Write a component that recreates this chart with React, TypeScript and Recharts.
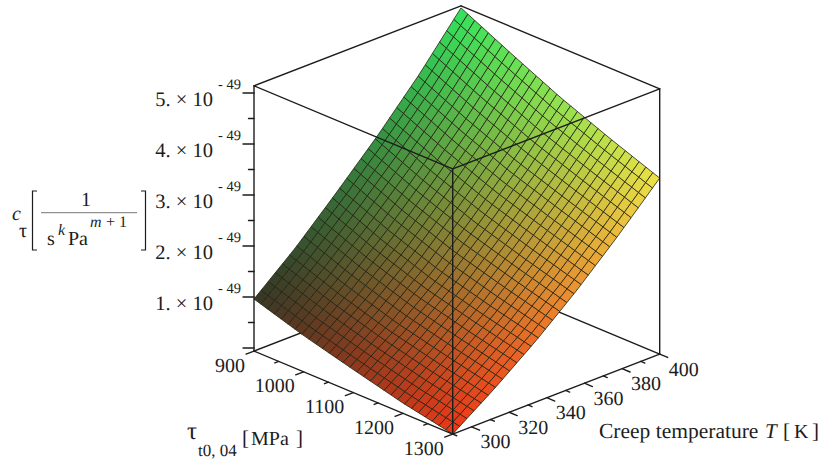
import { ScatterChart, Scatter, XAxis, YAxis } from "recharts";

// values, c in units of 1e-49
const tauStations = [900, 1000, 1100, 1200, 1300];
const tempStations = [290, 312, 334, 356, 378, 400];
const cAt290 = [0.96, 0.65, 0.39, 0.14, -0.06];
const cAt312 = [1.65, 1.28, 0.97, 0.73, 0.51];
const cAt334 = [2.43, 2.0, 1.64, 1.37, 1.13];
const cAt356 = [3.24, 2.8, 2.42, 2.11, 1.82];
const cAt378 = [4.12, 3.66, 3.25, 2.91, 2.58];
const cAt400 = [5.1, 4.62, 4.16, 3.76, 3.39];
const cRows = [cAt290, cAt312, cAt334, cAt356, cAt378, cAt400];

const tauTicks = [900, 1000, 1100, 1200, 1300];
const tauMinor = [950, 1050, 1150, 1250];
const tempTicks = [300, 320, 340, 360, 380, 400];
const tempMinor = [290, 310, 330, 350, 370, 390];
const cTicks = [1, 2, 3, 4, 5];
const cMinor = [0.5, 1.5, 2.5, 3.5, 4.5];

const TAU_MIN = 900;
const TAU_MAX = 1300;
const T_MIN = 290;
const T_MAX = 400;
const C_BOTTOM = -0.06;
const C_TOP = 5.14;
const MESH = 29;

const FONT = "'Liberation Serif', 'Times New Roman', serif";
const INK = "#1c1c1c";

// fixed view of the box, the chart axes run in the same units as the page
const project = (T: number, tau: number, c: number) => {
  const t = (T - T_MIN) / (T_MAX - T_MIN);
  const s = (tau - TAU_MIN) / (TAU_MAX - TAU_MIN);
  return { x: 254 + 198.7 * s + 207 * t, y: 348 + 83 * s - 80 * t - 51 * c };
};

const segment = (
  a: { x: number; y: number },
  b: { x: number; y: number },
) => ({ x: a.x, y: a.y, dx: b.x - a.x, dy: b.y - a.y });

const corner = (T: number, tau: number, c: number) => project(T, tau, c);

const backEdges = [
  [T_MAX, TAU_MIN, C_TOP, T_MIN, TAU_MIN, C_TOP],
  [T_MAX, TAU_MIN, C_TOP, T_MAX, TAU_MAX, C_TOP],
  [T_MAX, TAU_MIN, C_BOTTOM, T_MIN, TAU_MIN, C_BOTTOM],
  [T_MAX, TAU_MIN, C_BOTTOM, T_MAX, TAU_MAX, C_BOTTOM],
].map((e) => segment(corner(e[0], e[1], e[2]), corner(e[3], e[4], e[5])));

const frontEdges = [
  [T_MIN, TAU_MIN, C_TOP, T_MIN, TAU_MAX, C_TOP],
  [T_MIN, TAU_MAX, C_TOP, T_MAX, TAU_MAX, C_TOP],
  [T_MIN, TAU_MIN, C_BOTTOM, T_MIN, TAU_MIN, C_TOP],
  [T_MIN, TAU_MAX, C_BOTTOM, T_MIN, TAU_MAX, C_TOP],
  [T_MAX, TAU_MAX, C_BOTTOM, T_MAX, TAU_MAX, C_TOP],
  [T_MIN, TAU_MIN, C_BOTTOM, T_MIN, TAU_MAX, C_BOTTOM],
  [T_MIN, TAU_MAX, C_BOTTOM, T_MAX, TAU_MAX, C_BOTTOM],
].map((e) => segment(corner(e[0], e[1], e[2]), corner(e[3], e[4], e[5])));

const tickSegs = [
  ...[0, ...cTicks].map((c) => ({ ...project(T_MIN, TAU_MIN, c), dx: -11, dy: 0 })),
  ...cMinor.map((c) => ({ ...project(T_MIN, TAU_MIN, c), dx: -5.5, dy: 0 })),
  ...tauTicks.map((v) => ({ ...project(T_MIN, v, C_BOTTOM), dx: -8, dy: 3 })),
  ...tauMinor.map((v) => ({ ...project(T_MIN, v, C_BOTTOM), dx: -4, dy: 1.5 })),
  ...tempTicks.map((v) => ({ ...project(v, TAU_MAX, C_BOTTOM), dx: 8, dy: 3.4 })),
  ...tempMinor.map((v) => ({ ...project(v, TAU_MAX, C_BOTTOM), dx: 4, dy: 1.7 })),
];

// surface value between the stations of the read table, only to place the wire mesh
const cAt = (T: number, tau: number) => {
  const ti = Math.min(
    tempStations.length - 2,
    tempStations.findIndex((v, i) => T <= tempStations[i + 1] && v <= T),
  );
  const si = Math.min(
    tauStations.length - 2,
    tauStations.findIndex((v, i) => tau <= tauStations[i + 1] && v <= tau),
  );
  const u = (T - tempStations[ti]) / (tempStations[ti + 1] - tempStations[ti]);
  const v = (tau - tauStations[si]) / (tauStations[si + 1] - tauStations[si]);
  const a = cRows[ti][si] * (1 - v) + cRows[ti][si + 1] * v;
  const b = cRows[ti + 1][si] * (1 - v) + cRows[ti + 1][si + 1] * v;
  return a * (1 - u) + b * u;
};

const cellColor = (T: number, tau: number, c: number) => {
  const t = (T - T_MIN) / (T_MAX - T_MIN);
  const s = (tau - TAU_MIN) / (TAU_MAX - TAU_MIN);
  const r = Math.round(52 + 185 * s);
  const g = Math.round(56 + 172 * Math.pow(t, 1.25));
  const b = Math.round(24 + (c / C_TOP) * 70);
  return `rgb(${r},${g},${b})`;
};

const surfaceCells: any[] = [];
for (let i = 0; i < MESH; i++) {
  for (let j = 0; j < MESH; j++) {
    const T0 = T_MIN + ((T_MAX - T_MIN) * i) / MESH;
    const T1 = T_MIN + ((T_MAX - T_MIN) * (i + 1)) / MESH;
    const a0 = TAU_MIN + ((TAU_MAX - TAU_MIN) * j) / MESH;
    const a1 = TAU_MIN + ((TAU_MAX - TAU_MIN) * (j + 1)) / MESH;
    const p = project(T0, a0, cAt(T0, a0));
    const q = [
      project(T1, a0, cAt(T1, a0)),
      project(T1, a1, cAt(T1, a1)),
      project(T0, a1, cAt(T0, a1)),
    ];
    surfaceCells.push({
      x: p.x,
      y: p.y,
      offsets: q.map((o) => [o.x - p.x, o.y - p.y]),
      fill: cellColor((T0 + T1) / 2, (a0 + a1) / 2, cAt((T0 + T1) / 2, (a0 + a1) / 2)),
    });
  }
}

const tickTexts = [
  ...tauTicks.map((v) => ({
    ...project(T_MIN, v, C_BOTTOM),
    label: String(v),
    dx: -9,
    dy: 20.5,
    anchor: "end",
    size: 20,
  })),
  ...tempTicks.map((v) => ({
    ...project(v, TAU_MAX, C_BOTTOM),
    label: String(v),
    dx: 9,
    dy: 21.5,
    anchor: "start",
    size: 20,
  })),
  ...cTicks.map((v) => ({
    ...project(T_MIN, TAU_MIN, v),
    label: `${v}. × 10`,
    dx: -41,
    dy: 13,
    anchor: "end",
    size: 20.5,
  })),
  ...cTicks.map((v) => ({
    ...project(T_MIN, TAU_MIN, v),
    label: "- 49",
    dx: -13,
    dy: -4.5,
    anchor: "end",
    size: 14.5,
  })),
];

const SegmentShape = (props: any) => (
  <line
    x1={props.cx}
    y1={props.cy}
    x2={props.cx + props.payload.dx}
    y2={props.cy + props.payload.dy}
    stroke={INK}
    strokeWidth={1.4}
    strokeLinecap="round"
  />
);

const CellShape = (props: any) => {
  const { offsets, fill } = props.payload;
  const pts = [[0, 0], ...offsets]
    .map((o: number[]) => `${props.cx + o[0]},${props.cy + o[1]}`)
    .join(" ");
  return (
    <polygon
      points={pts}
      fill={fill}
      stroke="#22220f"
      strokeOpacity={0.8}
      strokeWidth={1}
    />
  );
};

const TextShape = (props: any) => {
  const { label, dx, dy, anchor, size } = props.payload;
  return (
    <text
      x={props.cx + dx}
      y={props.cy + dy}
      textAnchor={anchor}
      fontFamily={FONT}
      fontSize={size}
      fill={INK}
      textRendering="geometricPrecision"
    >
      {label}
    </text>
  );
};

const AxisTitles = () => (
  <svg
    width={819}
    height={461}
    style={{ position: "absolute", left: 0, top: 0 }}
    fontFamily={FONT}
    fill={INK}
    textRendering="geometricPrecision"
  >
    <text x={12} y={220} fontSize={20} fontStyle="italic">c</text>
    <text x={19} y={237} fontSize={20}>τ</text>
    <path d="M37 191 H32.5 V250 H37" fill="none" stroke={INK} strokeWidth={1.2} />
    <text x={86} y={206} fontSize={20} textAnchor="middle">1</text>
    <line x1={41} y1={212.7} x2={137} y2={212.7} stroke="#777" strokeWidth={1} />
    <text x={47} y={245} fontSize={20}>s</text>
    <text x={58} y={235} fontSize={16} fontStyle="italic">k</text>
    <text x={68} y={245} fontSize={20}>Pa</text>
    <text x={90} y={227} fontSize={16} fontStyle="italic">m</text>
    <text x={106} y={227} fontSize={16}>+ 1</text>
    <path d="M141 191 H145.5 V250 H141" fill="none" stroke={INK} strokeWidth={1.2} />

    <text x={187} y={439} fontSize={25}>τ</text>
    <text x={198} y={456} fontSize={17}>t0, 04</text>
    <text x={242} y={445} fontSize={21}>[</text>
    <text x={251} y={445} fontSize={20}>MPa</text>
    <text x={296} y={445} fontSize={21}>]</text>

    <text x={599} y={438} fontSize={21.5}>Creep temperature</text>
    <text x={765} y={438} fontSize={21} fontStyle="italic">T</text>
    <text x={783} y={438} fontSize={21}>[</text>
    <text x={794} y={438} fontSize={20}>K</text>
    <text x={812} y={438} fontSize={21}>]</text>
  </svg>
);

export default function App() {
  return (
    <div style={{ position: "absolute", left: 0, top: 0, width: 819, height: 461, background: "#fff" }}>
      <ScatterChart width={819} height={461} margin={{ top: 0, right: 0, bottom: 0, left: 0 }}>
        <XAxis type="number" dataKey="x" domain={[0, 819]} hide />
        <YAxis type="number" dataKey="y" domain={[0, 461]} reversed hide />
        <Scatter data={backEdges} shape={SegmentShape} isAnimationActive={false} />
        <Scatter data={surfaceCells} shape={CellShape} isAnimationActive={false} />
        <Scatter data={frontEdges} shape={SegmentShape} isAnimationActive={false} />
        <Scatter data={tickSegs} shape={SegmentShape} isAnimationActive={false} />
        <Scatter data={tickTexts} shape={TextShape} isAnimationActive={false} />
      </ScatterChart>
      <AxisTitles />
    </div>
  );
}
